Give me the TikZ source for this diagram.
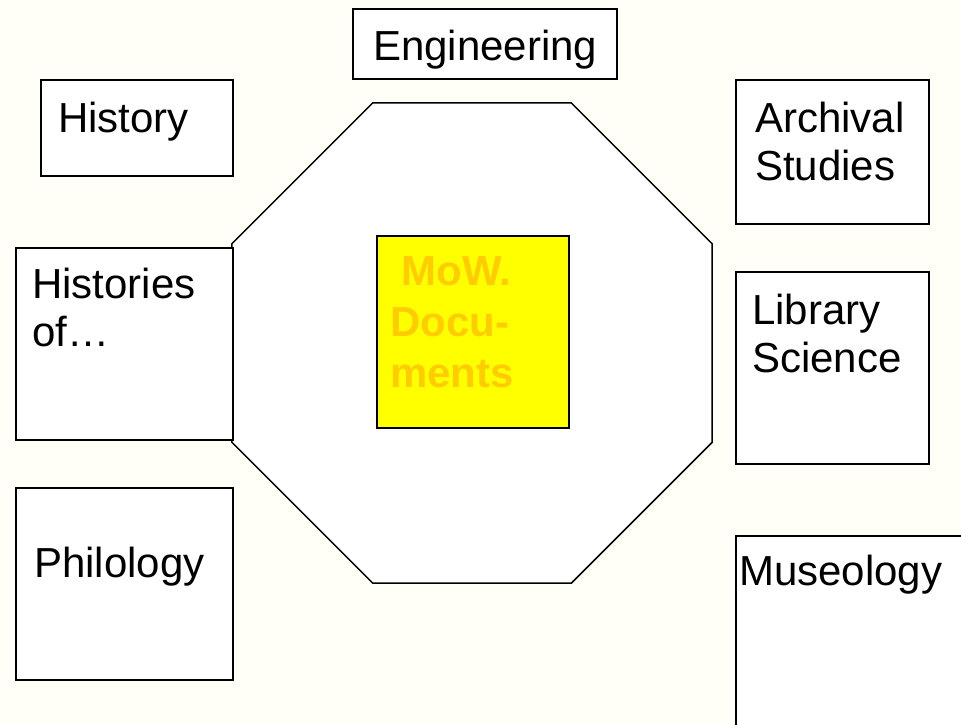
\documentclass[tikz,border=0pt]{standalone}
\usepackage{fontspec}
\setmainfont{Liberation Sans}
\usetikzlibrary{shapes.geometric}
\definecolor{sfondo}{HTML}{FFFFF7}
\definecolor{giallo}{HTML}{FFFF00}
\definecolor{arancio}{HTML}{FFCC00}
\begin{document}
\begin{tikzpicture}[x=1pt, y=-1pt,
    box/.style={draw, line width=1.5pt, fill=white, anchor=north west, inner sep=0pt},
    testo/.style={anchor=base west, inner sep=0pt, align=left, font=\fontsize{42}{48}\selectfont}]
    \useasboundingbox (0,0) rectangle (961,724);
    \clip (0,0) rectangle (961,724);
    \fill[sfondo] (0,0) rectangle (961,724);

    % Ottagono centrale
    \node[regular polygon, regular polygon sides=8, draw, fill=white, line width=1.5pt,
          inner sep=0pt, minimum size=519.6pt] (core) at (472,343) {};

    % Riquadri delle discipline
    \foreach \nome/\x/\y/\w/\h in {eng/352/8/264/70, hist/40/79/192/96, arch/735/79/193/144,
                                   hists/15/247/217/192, lib/735/271/193/192,
                                   phil/15/487/217/192, mus/735/535/260/220}
        \node[box, minimum width=\w pt, minimum height=\h pt] (\nome) at (\x,\y) {};

    \node[box, fill=giallo, line width=2pt, minimum width=192pt, minimum height=192pt] (mow) at (376,235) {};

    % testi (per le righe multiple: y = linea di base dell'ultima riga)
    \foreach \nome/\x/\y/\testo in {eng/373/60/Engineering, hist/58/132/History,
                                    arch/755/180/{Archival\\Studies}, hists/32/346/{Histories\\of…},
                                    lib/752/372/{Library\\Science}, phil/34/577/Philology,
                                    mus/739/585/Museology}
        \node[testo] (\nome-t) at (\x,\y) {\testo};

    \node[testo, text=arancio, font=\fontsize{42}{51}\selectfont\bfseries] (mow-t) at (390,387) {\ MoW.\\Docu-\\ments};
\end{tikzpicture}
\end{document}
